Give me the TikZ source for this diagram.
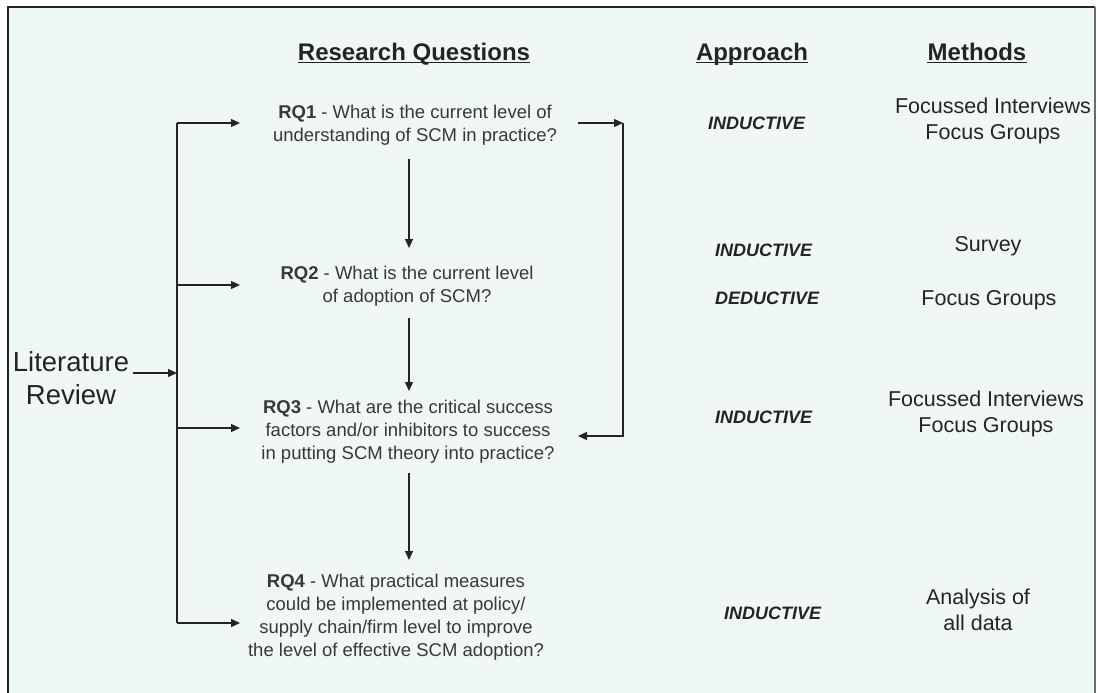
\documentclass[tikz,border=0pt]{standalone}
\usepackage{fontspec}
\setmainfont{Liberation Sans}
\usetikzlibrary{arrows.meta}
\definecolor{panel}{HTML}{F0F8F7}
\definecolor{ink}{HTML}{242424}
\definecolor{txt}{HTML}{383838}
\definecolor{edge}{HTML}{6A6A6A}
\begin{document}
\begin{tikzpicture}[x=1pt,y=-1pt,
  wire/.style={line width=1.4pt, draw=ink},
  arr/.style={wire, -{Triangle[length=9pt,width=8pt]}},
  head/.style={font=\fontsize{24}{28}\selectfont\bfseries, text=ink, inner sep=0pt, anchor=base},
  uline/.style={line width=1.5pt, draw=ink},
  rq/.style={font=\fontsize{18.5}{23}\selectfont, text=txt, align=center, inner sep=0pt},
  appr/.style={font=\fontsize{18}{22}\selectfont\bfseries\itshape, text=ink, anchor=west, inner sep=0pt},
  meth/.style={font=\fontsize{21.5}{25.5}\selectfont, text=ink, align=center, inner sep=0pt},
  lit/.style={font=\fontsize{27.5}{33}\selectfont, text=ink, align=center, inner sep=0pt},
]
\useasboundingbox (0,0) rectangle (1098,693);
% page and panel
\fill[white] (0,0) rectangle (1098,693);
\fill[panel] (8,7) rectangle (1095,693);
\draw[line width=2pt, ink] (8,693) -- (8,7) -- (1095,7);
\draw[line width=1.5pt, edge] (1095,7) -- (1095,693);

% column headings, underlined just below the baseline
\node[head] (hrq) at (414,60) {Research Questions};
\node[head] (hap) at (752,60) {Approach};
\node[head] (hme) at (977,60) {Methods};
\foreach \h in {hrq,hap,hme}
  \draw[uline] ([yshift=-2.3pt]\h.base west) -- ([yshift=-2.3pt]\h.base east);

% research questions
\node[rq] (rq1) at (415,125) {\textbf{RQ1} - What is the current level of\\understanding of SCM in practice?};
\node[rq] (rq2) at (407,286) {\textbf{RQ2} - What is the current level\\of adoption of SCM?};
\node[rq] (rq3) at (408,432) {\textbf{RQ3} - What are the critical success\\factors and/or inhibitors to success\\in putting SCM theory into practice?};
\node[rq] (rq4) at (396,617) {\textbf{RQ4} - What practical measures\\could be implemented at policy/\\supply chain/firm level to improve\\the level of effective SCM adoption?};

% literature review source
\node[lit] (lit) at (71,378) {Literature\\Review};

% approach column
\node[appr] (ap1) at (708,123) {INDUCTIVE};
\node[appr] (ap2) at (715,250) {INDUCTIVE};
\node[appr] (ap3) at (715,298) {DEDUCTIVE};
\node[appr] (ap4) at (715,417) {INDUCTIVE};
\node[appr] (ap5) at (724,613) {INDUCTIVE};

% methods column
\node[meth] (me1) at (993,121) {Focussed Interviews\\Focus Groups};
\node[meth] (me2) at (988,246) {Survey};
\node[meth] (me3) at (989,300) {Focus Groups};
\node[meth] (me4) at (986,414) {Focussed Interviews\\Focus Groups};
\node[meth] (me5) at (978,610) {Analysis of\\all data};

% left trunk feeding every question
\coordinate (l0) at (133,373);
\coordinate (j0) at (177,373);
\coordinate (j1) at (177,123);
\coordinate (j2) at (177,285);
\coordinate (j3) at (177,428);
\coordinate (j4) at (177,623);
\coordinate (t1) at (240,123);
\coordinate (t2) at (240,285);
\coordinate (t3) at (240,428);
\coordinate (t4) at (240,623);
\draw[wire] (j1) -- (j4);
\draw[arr] (l0) -- (j0);
\draw[arr] (j1) -- (t1);
\draw[arr] (j2) -- (t2);
\draw[arr] (j3) -- (t3);
\draw[arr] (j4) -- (t4);

% sequence between questions
\coordinate (d1a) at (409,159);
\coordinate (d1b) at (409,248);
\coordinate (d2a) at (409,318);
\coordinate (d2b) at (409,391);
\coordinate (d3a) at (409,473);
\coordinate (d3b) at (409,560);
\draw[arr] (d1a) -- (d1b);
\draw[arr] (d2a) -- (d2b);
\draw[arr] (d3a) -- (d3b);

% feedback from RQ1 to RQ3
\coordinate (r0) at (578,123);
\coordinate (r1) at (623,123);
\coordinate (r2) at (623,436);
\coordinate (r3) at (578,436);
\draw[arr] (r0) -- (r1);
\draw[arr] (r1) -- (r2) -- (r3);
\end{tikzpicture}
\end{document}
